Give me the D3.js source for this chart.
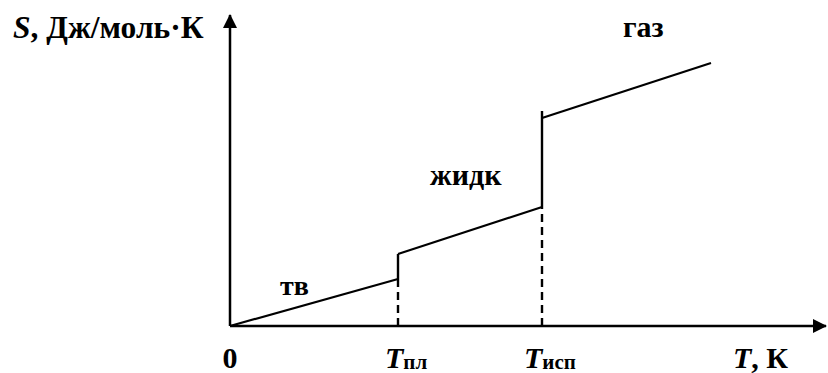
<!DOCTYPE html>
<html>
<head>
<meta charset="utf-8">
<script src="https://cdn.jsdelivr.net/npm/d3@7"></script>
<style>
  html, body { margin: 0; padding: 0; background: #fff; }
</style>
</head>
<body>
<svg id="chart" width="828" height="373"></svg>
<script>
// ---- data (arbitrary units) ----
const phases = ["тв", "жидк", "газ"];
const transitionT = [168, 312];          // T_пл, T_исп
const transitionNames = ["пл", "исп"];
const segmentT = [[0, 168], [168, 312], [312, 481]];
const segmentS = [[0, 47], [72, 119], [208, 263]];
const jumpS = [[47, 72], [119, 215]];   // vertical jumps at transitions
const axisMaxT = 596;
const axisMaxS = 311;
const xLabel = ["T", ", К"];
const yLabel = ["S", ", Дж/моль·К"];
const originLabel = "0";

const FONT = "Liberation Serif";

// ---- scales ----
const svg = d3.select("#chart");
const x = d3.scaleLinear().domain([0, axisMaxT]).range([230, 826]);
const y = d3.scaleLinear().domain([0, axisMaxS]).range([326, 15]);

// ---- arrow markers ----
const defs = svg.append("defs");
defs.append("marker")
  .attr("id", "arrow").attr("viewBox", "0 0 14 14")
  .attr("refX", 13).attr("refY", 7)
  .attr("markerWidth", 14).attr("markerHeight", 14)
  .attr("markerUnits", "userSpaceOnUse")
  .attr("orient", "auto")
  .append("path").attr("d", "M0,0 L14,7 L0,14 Z").attr("fill", "#000");

// ---- axes ----
svg.append("line")
  .attr("x1", x(0)).attr("y1", y(0)).attr("x2", x(axisMaxT)).attr("y2", y(0))
  .attr("stroke", "#000").attr("stroke-width", 2.5).attr("marker-end", "url(#arrow)");
svg.append("line")
  .attr("x1", x(0)).attr("y1", y(0)).attr("x2", x(0)).attr("y2", y(axisMaxS))
  .attr("stroke", "#000").attr("stroke-width", 2.5).attr("marker-end", "url(#arrow)");

// ---- dashed drop lines ----
svg.selectAll("line.drop").data(transitionT).enter().append("line")
  .attr("class", "drop")
  .attr("x1", d => x(d)).attr("x2", d => x(d))
  .attr("y1", y(0)).attr("y2", (d, i) => y(jumpS[i][0]))
  .attr("stroke", "#000").attr("stroke-width", 2.4)
  .attr("stroke-dasharray", "8,5");

// ---- phase segments ----
const line = d3.line().x(d => x(d[0])).y(d => y(d[1]));
segmentT.forEach((t, i) => {
  svg.append("path")
    .attr("d", line([[t[0], segmentS[i][0]], [t[1], segmentS[i][1]]]))
    .attr("fill", "none").attr("stroke", "#000").attr("stroke-width", 2.2);
});
// vertical jumps
transitionT.forEach((t, i) => {
  svg.append("path")
    .attr("d", line([[t, jumpS[i][0]], [t, jumpS[i][1]]]))
    .attr("fill", "none").attr("stroke", "#000").attr("stroke-width", 2.4);
});

function txt(xp, yp) {
  return svg.append("text").attr("x", xp).attr("y", yp)
    .attr("font-family", FONT).attr("font-weight", "bold").attr("fill", "#000");
}

// ---- phase labels ----
const phaseLabelPos = [
  {x: x(50), y: 295, size: 28},
  {x: x(200), y: 185, size: 30},
  {x: x(393), y: 37, size: 30}
];
phases.forEach((p, i) => {
  txt(phaseLabelPos[i].x, phaseLabelPos[i].y)
    .attr("font-size", phaseLabelPos[i].size)
    .text(p);
});

// ---- tick labels ----
const baseY = 368;
txt(x(0), baseY).attr("text-anchor", "middle").attr("font-size", 30).text(originLabel);

const tickOffsets = [-13, -18];
transitionT.forEach((t, i) => {
  const tx = txt(x(t) + tickOffsets[i], baseY);
  tx.append("tspan").attr("font-size", 30).attr("font-style", "italic").text("T");
  tx.append("tspan").attr("font-size", 21).attr("dy", 1).text(transitionNames[i]);
});

// axis titles
const xt = txt(733, baseY);
xt.append("tspan").attr("font-size", 30).attr("font-style", "italic").text(xLabel[0]);
xt.append("tspan").attr("font-size", 30).text(xLabel[1]);

const yt = txt(13, 38);
yt.append("tspan").attr("font-size", 31.5).attr("font-style", "italic").text(yLabel[0]);
yt.append("tspan").attr("font-size", 31.5).text(yLabel[1]);
</script>
</body>
</html>
